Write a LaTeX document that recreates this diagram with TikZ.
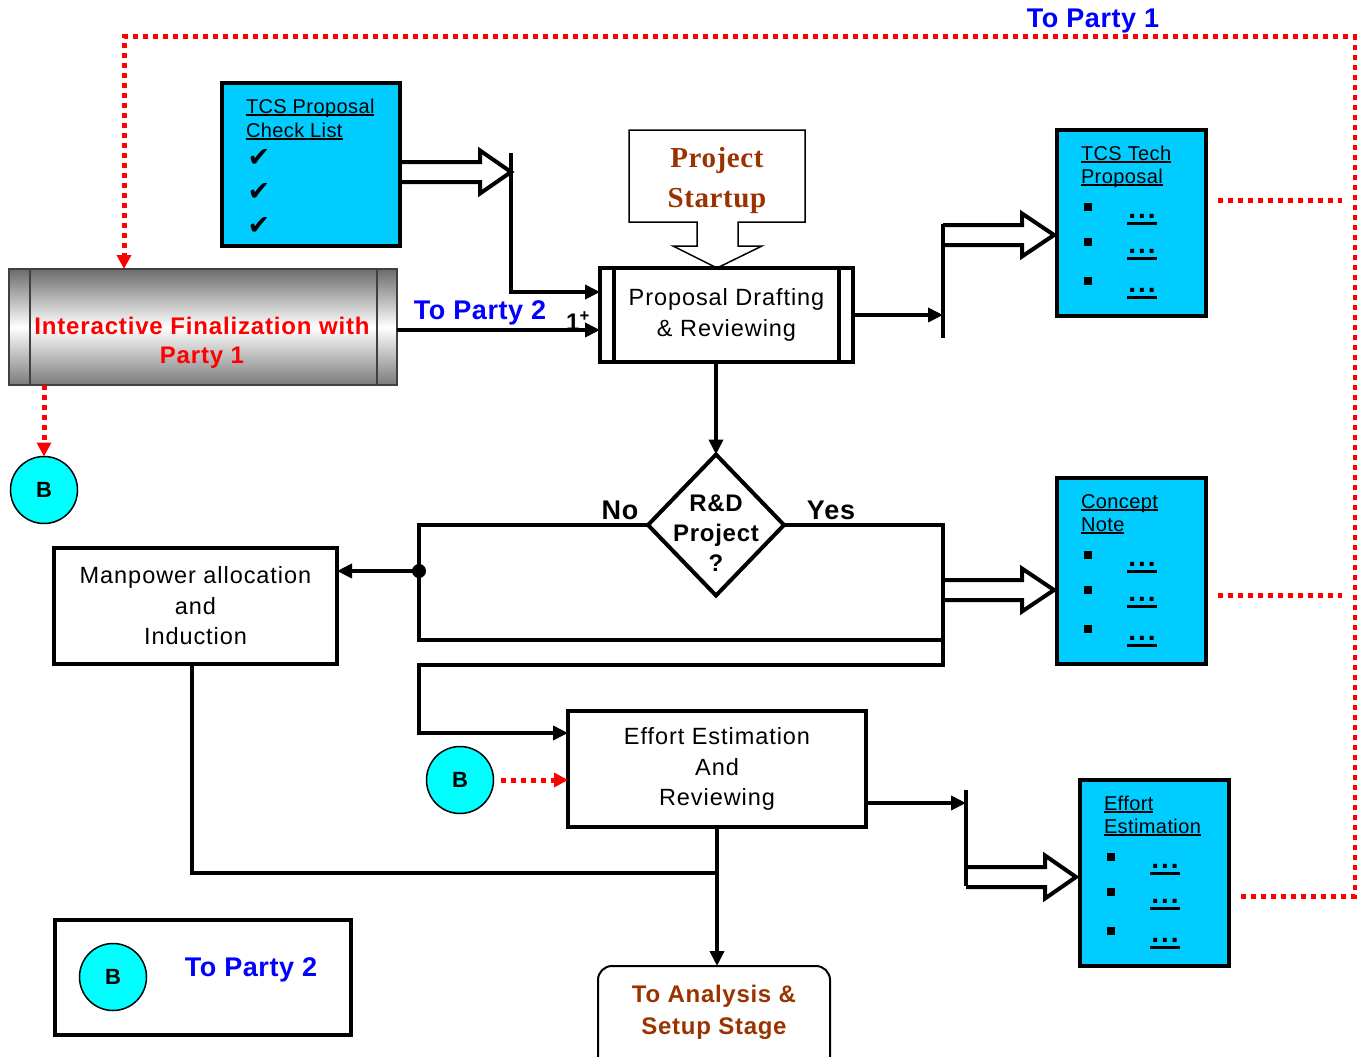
\documentclass[tikz,border=0pt]{standalone}
\usepackage{fontspec}
\setmainfont{Liberation Sans}
\newfontfamily\startupfont{Liberation Serif}
\newfontfamily\symfont{DejaVu Sans}
\usetikzlibrary{arrows.meta,shapes.geometric,calc}

\definecolor{boxcyan}{RGB}{0,204,255}
\definecolor{circcyan}{RGB}{0,255,255}
\definecolor{brownred}{RGB}{153,51,0}
\definecolor{linkblue}{RGB}{0,0,255}
\definecolor{dotred}{RGB}{255,0,0}

% underline: #1 depth below baseline, #2 rule thickness, #3 text
\newcommand{\undl}[3]{\setbox0=\hbox{#3}\rlap{\rule[-#1]{\wd0}{#2}}\box0}
\newcommand{\fs}[2]{\fontsize{#1}{#2}\selectfont}

% hollow block arrow: start point, shaft length, head length
\newcommand{\hollowarrow}[3]{%
  \draw[hollow] #1 ++(0,-10) -- ++(#2,0) -- ++(0,-11.5) -- ++(#3,21.5)
    -- ++(-#3,21.5) -- ++(0,-11.5) -- ++(-#2,0);}

% cyan document box with underlined title and three bullet lines
\newcommand{\infobox}[5]{%
  \node[cyanbox, anchor=north west, minimum width=149pt, minimum height=186pt] (#1) at (#2,#3) {};
  \node[titletext, anchor=base west] (#1-ta) at ($(#2,#3)+(24,30)$) {\undl{3pt}{2pt}{#4}};
  \node[titletext, anchor=base west] (#1-tb) at ($(#2,#3)+(24,53)$) {\undl{3pt}{2pt}{#5}};
  \foreach \dy [count=\k] in {77,112,151} {
    \node (#1-b\k) at ($(#2,#3)+(31,\dy)$) {\rule{8pt}{8pt}};
    \node[dotsul, anchor=base] (#1-d\k) at ($(#2,#3)+(85,\dy+11)$)
      {\undl{7pt}{3.2pt}{\hspace{1pt}.\hspace{2pt}.\hspace{2pt}.\hspace{1pt}}};
  }}

\tikzset{
  every node/.style={inner sep=0pt, outer sep=0pt},
  bodytext/.style={font=\fs{23.5}{30.5}\addfontfeatures{LetterSpace=4}, align=center},
  cyanbox/.style={draw, line width=4.5pt, fill=boxcyan},
  titletext/.style={font=\fs{20}{24}\addfontfeatures{LetterSpace=2}},
  tick/.style={font=\symfont\fs{27}{27}},
  dotsul/.style={font=\bfseries\fs{28}{28}},
  procbox/.style={draw, line width=4.5pt, fill=white, bodytext},
  plainbox/.style={draw, line width=4.5pt, fill=white, bodytext},
  wire/.style={line width=4pt, line join=miter},
  tip/.style={-{Triangle[length=15pt,width=14pt]}},
  hollow/.style={line width=4pt, line join=miter},
  reddot/.style={dotred, line width=5pt, dash pattern=on 5pt off 5pt},
  redtip/.style={-{Triangle[length=14pt,width=14pt]}},
  bcirc/.style={circle, draw, line width=1.5pt, fill=circcyan, minimum size=67pt, font=\bfseries\fs{22}{22}},
  bluelabel/.style={text=linkblue, font=\bfseries\fs{27}{27}\addfontfeatures{LetterSpace=2}},
  decision/.style={diamond, draw, line width=4pt, fill=white, minimum width=136pt, minimum height=141pt, aspect=1},
  dectext/.style={font=\bfseries\fs{24}{30}\addfontfeatures{LetterSpace=3}, align=center},
  yesno/.style={font=\bfseries\fs{27}{27}\addfontfeatures{LetterSpace=3}},
  cylbox/.style={draw=black!75, line width=1.5pt, top color=black!58, bottom color=black!52, middle color=white},
  cyltext/.style={text=dotred, font=\bfseries\fs{24}{29}\addfontfeatures{LetterSpace=3.5}, align=center},
  starttext/.style={text=brownred, font=\startupfont\bfseries\fs{29}{40}\addfontfeatures{LetterSpace=2}, align=center},
  finaltext/.style={text=brownred, font=\bfseries\fs{24}{32}\addfontfeatures{LetterSpace=3}, align=center},
}

\begin{document}
\begin{tikzpicture}[x=1pt,y=-1pt]
\useasboundingbox (0,0) rectangle (1357,1057);
\clip (0,0) rectangle (1357,1057);

% ---------- proposal check list ----------
\node[cyanbox, minimum width=178pt, minimum height=163pt] (check) at (311,164.5) {};
\node[titletext, anchor=base west] (checkta) at (246,113) {\undl{3pt}{2pt}{TCS Proposal}};
\node[titletext, anchor=base west] (checktb) at (246,137) {\undl{3pt}{2pt}{Check List}};
\foreach \y [count=\i] in {158,192,226}
  \node[tick] (tick\i) at (259,\y) {✔};

% ---------- interactive finalization ----------
\node[cylbox, minimum width=388pt, minimum height=116pt] (cyl) at (203,327) {};
\draw[line width=1.5pt, black!75] ([xshift=21pt]cyl.north west) -- ([xshift=21pt]cyl.south west);
\draw[line width=1.5pt, black!75] ([xshift=-20pt]cyl.north east) -- ([xshift=-20pt]cyl.south east);
\node[cyltext] (cylt) at (202,343) {Interactive Finalization with\\Party 1};

% ---------- project startup callout ----------
\draw[line width=1.5pt, line join=miter]
  (629,130) -- (805,130) -- (805,222) -- (738,222) -- (738,246) -- (762,246)
  -- (717,268) -- (673,246) -- (697,246) -- (697,222) -- (629,222) -- cycle;
\node[starttext] (start) at (717,181) {Project\\Startup};

% ---------- proposal drafting ----------
\node[procbox, minimum width=253pt, minimum height=94pt] (prop) at (726.5,315) {Proposal Drafting\\\& Reviewing};
\draw[line width=4.5pt] ([xshift=14pt]prop.north west) -- ([xshift=14pt]prop.south west);
\draw[line width=4.5pt] ([xshift=-14pt]prop.north east) -- ([xshift=-14pt]prop.south east);

% ---------- decision ----------
\node[decision] (dia) at (716,525) {};
\node[dectext] (diat) at (716,533) {R\&D\\Project\\?};
\node[yesno] (no) at (620,510) {No};
\node[yesno] (yes) at (831,510) {Yes};

% ---------- work boxes ----------
\node[plainbox, minimum width=283pt, minimum height=116pt] (man) at (195.5,606) {Manpower allocation\\and\\Induction};
\node[plainbox, minimum width=298pt, minimum height=116pt] (eff) at (717,769) {Effort Estimation\\And\\Reviewing};

% ---------- document boxes ----------
\infobox{tech}{1057}{130}{TCS Tech}{Proposal}
\infobox{note}{1057}{478}{Concept}{Note}
\infobox{est}{1080}{780}{Effort}{Estimation}

% ---------- connectors ----------
\coordinate (bar1t) at (511,153);
\coordinate (bar2t) at (943,224);
\coordinate (bar2b) at (943,338);
\coordinate (bar4t) at (966,790);
\coordinate (bar4b) at (966,886);
\coordinate (nturn) at (419,525);
\coordinate (nbot) at (419,640);
\coordinate (yturn) at (943,525);
\coordinate (ybot) at (943,665);
\coordinate (loop) at (419,665);
\coordinate (junc) at (419,571);
\coordinate (merge) at (717,873);

\hollowarrow{(check.east |- 0,172)}{80}{31}
\draw[wire, tip] (bar1t) |- ([yshift=23pt]prop.west);
\draw[wire, tip] ([yshift=-3pt]cyl.east) -- ([yshift=-15pt]prop.west);
\node[bluelabel] (party2a) at (480,313) {To Party 2};
\node[font=\bfseries\fs{24}{24}] (mult) at (578,321) {1\textsuperscript{+}};

\draw[wire, tip] (prop.east) -- (prop.east -| bar2t);
\draw[wire] (bar2t) -- (bar2b);
\hollowarrow{(bar2t |- 0,235)}{79}{32}

\draw[wire, tip] (prop.south -| dia.north) -- (dia.north);
\draw[wire] (dia.west) -- (nturn) -- (nbot) -- (nbot -| yturn);
\draw[wire, tip] (dia.east) -- (yturn) -- (ybot) -- (loop) |- ([yshift=36pt]eff.west);
\fill (junc) circle (7pt);
\draw[wire, tip] (junc) -- (junc -| man.east);
\hollowarrow{(yturn |- 0,590)}{79}{32}

\draw[wire, tip] ([yshift=-34pt]eff.east) -- ([yshift=-34pt]eff.east -| bar4t);
\draw[wire] (bar4t) -- (bar4b);
\hollowarrow{(bar4t |- 0,877)}{79}{31}

\draw[wire] ([xshift=-3.5pt]man.south) |- (merge);

% ---------- final stage ----------
\node[draw, line width=2pt, rounded corners=14pt, minimum width=232pt, minimum height=110pt] (final) at (714,1021) {};
\node[finaltext] (finalt) at (714,1012) {To Analysis \&\\Setup Stage};
\draw[wire, tip] (eff.south) -- (eff.south |- final.north);

% ---------- off-page connectors ----------
\node[bcirc] (b1) at (44,490) {B};
\node[bcirc] (b2) at (460,780) {B};
\draw[reddot, redtip] (cyl.south -| b1.north) -- (b1.north);
\draw[reddot, redtip] ([xshift=7pt]b2.east) -- (b2.east -| eff.west);

\coordinate (rtop) at (124,37);
\coordinate (rcorner) at (1355,37);
\coordinate (rbot) at (1355,896);
\draw[reddot, redtip] ([shift={(12,23)}]est.east) -- (rbot) -- (rcorner) -- (rtop) -- (rtop |- cyl.north);
\draw[reddot] ([shift={(12,-23)}]tech.east) -- ++(124,0);
\draw[reddot] ([shift={(12,24)}]note.east) -- ++(124,0);
\node[bluelabel] (party1) at (1093,21) {To Party 1};

% ---------- legend ----------
\node[draw, line width=3.5pt, minimum width=296pt, minimum height=115pt] (legend) at (203,977.5) {};
\node[bcirc] (b3) at (113,977) {B};
\node[bluelabel] (party2b) at (251,970) {To Party 2};
\end{tikzpicture}
\end{document}
